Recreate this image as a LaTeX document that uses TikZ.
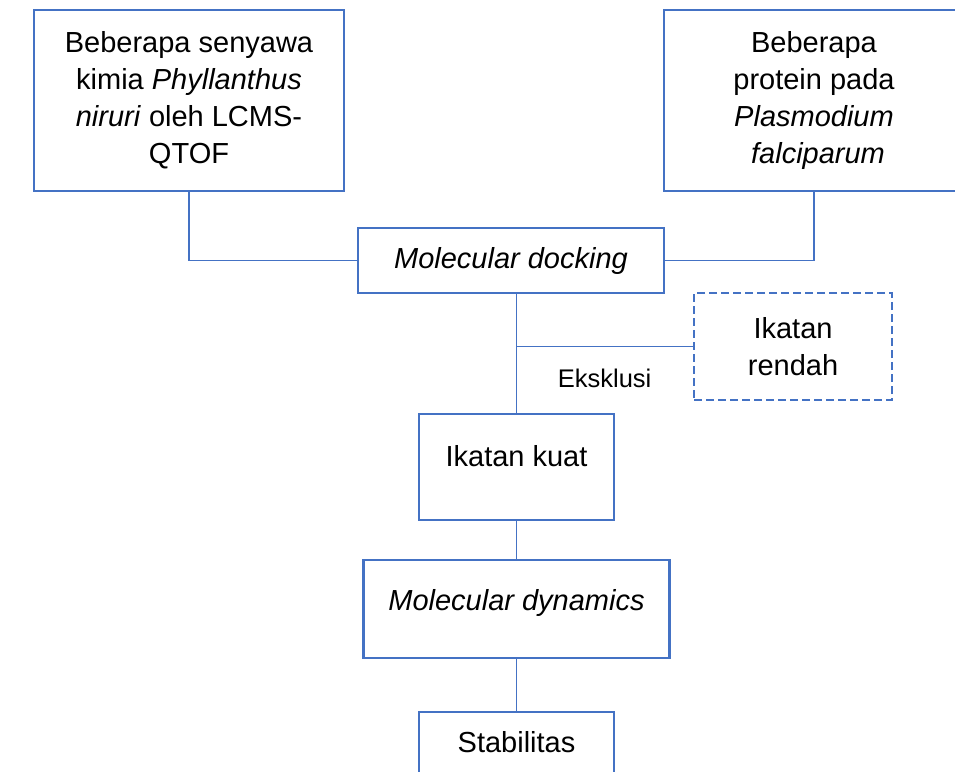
\documentclass[tikz,border=0pt]{standalone}
\usepackage{fontspec}
\setmainfont{Liberation Sans}
\usetikzlibrary{positioning}
\definecolor{boxblue}{HTML}{4472C4}

\begin{document}
\begin{tikzpicture}[x=1pt,y=-1pt,
      box/.style={rectangle,draw=boxblue,line width=2.6pt,align=center,
        font=\fontsize{29}{37}\selectfont},
      weak box/.style={box,dashed,dash pattern=on 8pt off 4pt},
      lift/.style={text depth=#1},
      link/.style={draw=boxblue,line width=1.3pt},
      lbl/.style={inner sep=0pt,font=\fontsize{25.5}{30}\selectfont}]

      \useasboundingbox (0,0) rectangle (955,771);

      \node[box,minimum width=306pt,minimum height=65pt] (dock) at (511,260.5) {\textit{Molecular docking}};
      \node[box,minimum width=310pt,minimum height=181pt] (chem) [above left=34.4pt and 11.4pt of dock]
        {Beberapa senyawa\\kimia \textit{Phyllanthus}\\\textit{niruri} oleh LCMS-\\QTOF};
      \node[box,minimum width=300pt,minimum height=181pt] (prot) [above right=34.4pt and -2.6pt of dock]
        {Beberapa\\protein pada\\\textit{Plasmodium}\\\textit{\ falciparum}};
      \node[box,lift=22pt,minimum width=195pt,minimum height=106pt] (kuat) [below=118.4pt of dock,xshift=5.5pt] {Ikatan kuat};
      \node[weak box,minimum width=198pt,minimum height=107pt] (weak) [above right=11.4pt and 77.4pt of kuat] {Ikatan\\rendah};
      \node[box,lift=18pt,minimum width=306pt,minimum height=98pt] (dyn) [below=37.4pt of kuat] {\textit{Molecular dynamics}};
      \node[box,lift=46pt,minimum width=195pt,minimum height=106pt] (stab) [below=51.4pt of dyn] {Stabilitas};

      \coordinate (split) at (weak.west -| kuat.north);

      \path[link]
        (chem.south) |- (dock.west)
        (prot.south) |- (dock.east)
        (dock.south -| kuat.north) -- (kuat.north)
        (split) -- node[lbl,below=21.5pt] {Eksklusi} (weak.west)
        (kuat.south) -- (dyn.north)
        (dyn.south) -- (stab.north);
\end{tikzpicture}
\end{document}
